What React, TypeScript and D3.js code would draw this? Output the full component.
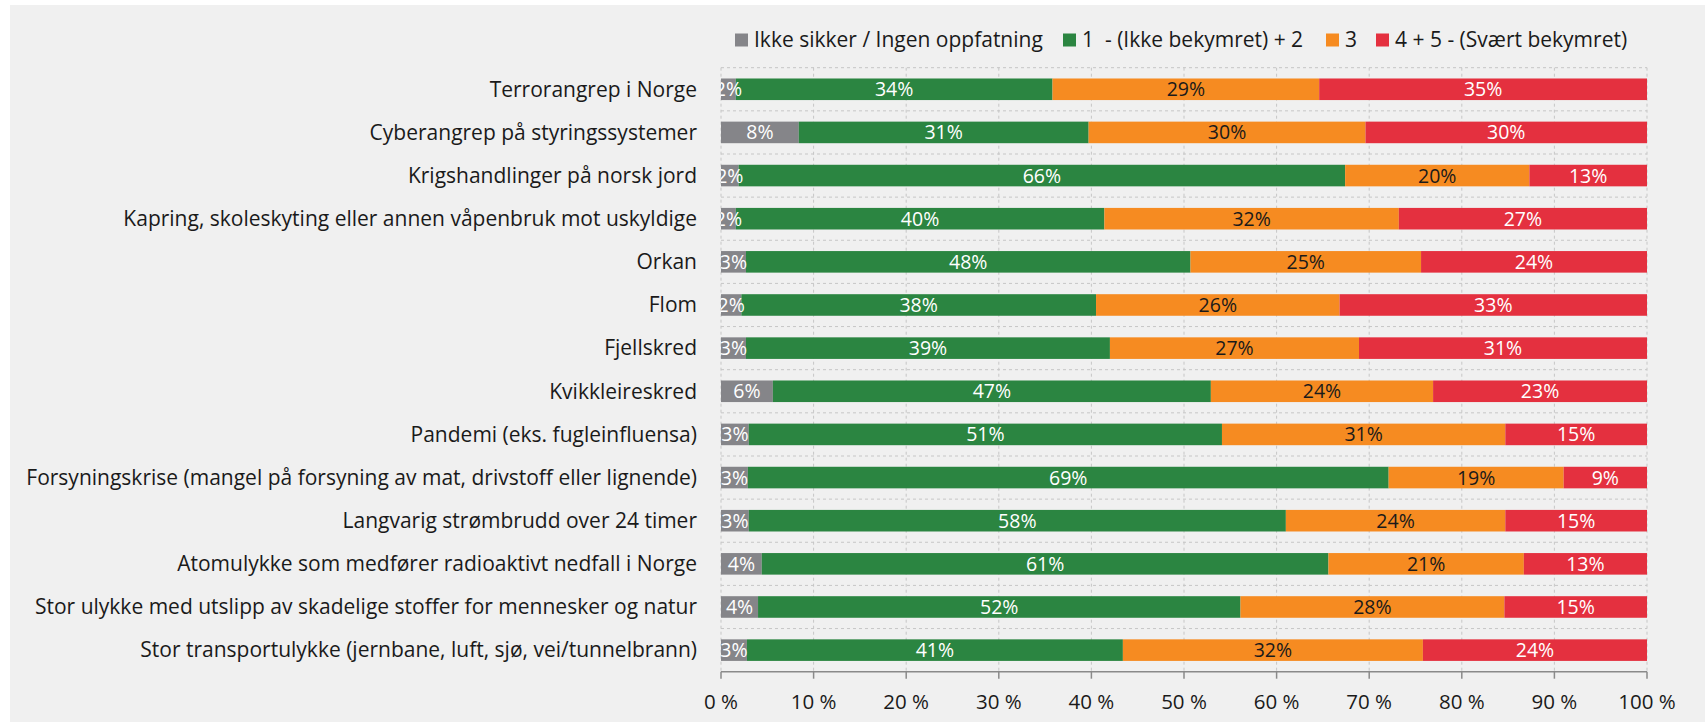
import React from 'react';
import * as d3 from 'd3';

// categories, top to bottom
const categories = [
  'Terrorangrep i Norge',
  'Cyberangrep på styringssystemer',
  'Krigshandlinger på norsk jord',
  'Kapring, skoleskyting eller annen våpenbruk mot uskyldige',
  'Orkan',
  'Flom',
  'Fjellskred',
  'Kvikkleireskred',
  'Pandemi (eks. fugleinfluensa)',
  'Forsyningskrise (mangel på forsyning av mat, drivstoff eller lignende)',
  'Langvarig strømbrudd over 24 timer',
  'Atomulykke som medfører radioaktivt nedfall i Norge',
  'Stor ulykke med utslipp av skadelige stoffer for mennesker og natur',
  'Stor transportulykke (jernbane, luft, sjø, vei/tunnelbrann)',
];

const seriesNames = [
  'Ikke sikker / Ingen oppfatning',
  '1  - (Ikke bekymret) + 2',
  '3',
  '4 + 5 - (Svært bekymret)',
];

const ikkeSikker = [1.6, 8.4, 1.9, 1.6, 2.7, 2.2, 2.7, 5.6, 3.0, 2.9, 3.0, 4.4, 4.0, 2.8];
const ikkeBekymret = [34.2, 31.3, 65.5, 39.8, 48.0, 38.3, 39.3, 47.3, 51.1, 69.2, 58.0, 61.2, 52.1, 40.6];
const middels = [28.8, 29.9, 19.9, 31.8, 24.9, 26.3, 26.9, 24.0, 30.6, 18.9, 23.7, 21.1, 28.5, 32.4];
const bekymret = [35.4, 30.4, 12.7, 26.8, 24.4, 33.2, 31.1, 23.1, 15.3, 9.0, 15.3, 13.3, 15.4, 24.2];

const xTicks = [0, 10, 20, 30, 40, 50, 60, 70, 80, 90, 100];

const colors = ['#858589', '#2b8541', '#f68b21', '#e4303f'];
const labelColors = ['#ffffff', '#ffffff', '#1a1a1a', '#ffffff'];
const legendX = [735, 1063, 1326, 1376];

const W = 1705;
const H = 722;
const FONT = '"Open Sans", sans-serif';

const App: React.FC = () => {
  const left = 721;
  const right = 1647;
  const top = 67.7;
  const bottom = 671.7;

  const x = d3.scaleLinear().domain([0, 100]).range([left, right]);
  const y = d3.scaleBand<string>()
    .domain(categories)
    .range([top, bottom])
    .paddingInner(0.5)
    .paddingOuter(0.25);
  const step = y.step();

  const rows = categories.map((c, i) => ({
    cat: c,
    v0: ikkeSikker[i],
    v1: ikkeBekymret[i],
    v2: middels[i],
    v3: bekymret[i],
  }));
  const stacked = d3.stack<any>().keys(['v0', 'v1', 'v2', 'v3'])(rows);

  return (
    <svg width={W} height={H} style={{ position: 'absolute', left: 0, top: 0, display: 'block' }}
      fontFamily={FONT}>
      <defs>
        <clipPath id="plotClip">
          <rect x={left} y={top} width={right - left} height={bottom - top} />
        </clipPath>
      </defs>
      <rect x={0} y={0} width={W} height={H} fill="#ffffff" />
      <rect x={10} y={5} width={W - 10} height={H - 5} fill="#f0f0f0" />

      {/* legend */}
      {seriesNames.map((s, i) => (
        <g key={s}>
          <rect x={legendX[i]} y={33.5} width={13} height={13} fill={colors[i]} />
          <text x={legendX[i] + 19} y={40} dy="0.35em" fontSize={21} fill="#1a1a1a"
            style={{ whiteSpace: 'pre' }}>{s}</text>
        </g>
      ))}

      {/* grid */}
      {d3.range(categories.length).map(i => (
        <line key={'h' + i} x1={left} x2={right} y1={top + i * step} y2={top + i * step}
          stroke="#c6c6c6" strokeDasharray="3,3" />
      ))}
      {xTicks.map(t => (
        <line key={'v' + t} x1={x(t)} x2={x(t)} y1={top} y2={bottom}
          stroke="#c6c6c6" strokeDasharray="3,3" />
      ))}

      {/* bars */}
      {stacked.map((layer, si) => (
        <g key={layer.key}>
          {layer.map((d, i) => (
            <rect key={i} x={x(d[0])} y={y(categories[i])} width={x(d[1]) - x(d[0])}
              height={y.bandwidth()} fill={colors[si]} />
          ))}
        </g>
      ))}

      {/* value labels */}
      <g clipPath="url(#plotClip)">
        {stacked.map((layer, si) => (
          <g key={'l' + layer.key}>
            {layer.map((d, i) => (
              <text key={i} x={x((d[0] + d[1]) / 2)} y={(y(categories[i]) as number) + y.bandwidth() / 2}
                dy="0.36em" textAnchor="middle" fontSize={19.5} fill={labelColors[si]}>
                {Math.round(d[1] - d[0])}%
              </text>
            ))}
          </g>
        ))}
      </g>

      {/* category labels */}
      {categories.map(c => (
        <text key={c} x={697} y={(y(c) as number) + y.bandwidth() / 2} dy="0.35em"
          textAnchor="end" fontSize={21} fill="#1a1a1a">{c}</text>
      ))}

      {/* x axis */}
      <line x1={left} x2={right} y1={bottom} y2={bottom} stroke="#8a8a8a" strokeWidth={1.5} />
      {xTicks.map(t => (
        <g key={'t' + t}>
          <line x1={x(t)} x2={x(t)} y1={bottom} y2={bottom + 7} stroke="#8a8a8a" strokeWidth={1.5} />
          <text x={x(t)} y={702} dy="0.35em" textAnchor="middle" fontSize={20.5} fill="#1a1a1a">
            {t} %
          </text>
        </g>
      ))}
    </svg>
  );
};

export default App;
